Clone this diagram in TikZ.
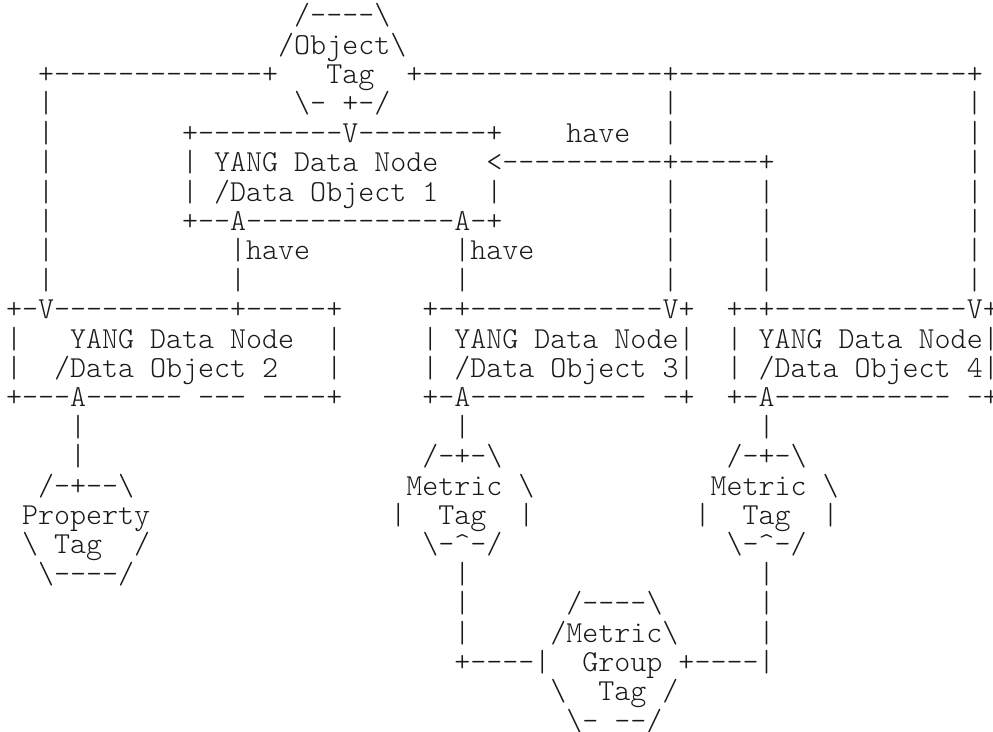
\documentclass[tikz,border=0pt]{standalone}
\usepackage{fontspec}
\newcommand\asciifont{\ttfamily\fontseries{l}\fontsize{30.5}{29.4}\selectfont}
\newcommand\gp[1]{\hskip #1\fontcharwd\font`x\relax}
\newcommand\bsl{\textbackslash}
\newcommand\crt{\textasciicircum}
\newcount\dshcnt
\newcommand\dsh[1]{\dshcnt=#1\relax\loop -\kern0pt\advance\dshcnt by -1\relax\ifnum\dshcnt>0 \repeat}
\tikzset{asc/.style={anchor=base west, inner sep=0pt, outer sep=0pt, font=\asciifont, text=black!90}}
\begin{document}
\begin{tikzpicture}[x=1pt,y=1pt]
\useasboundingbox (0,0) rectangle (993,731);
\def\xo{6}
\def\lny#1{706.3-(#1-1)*29.4}
\node[asc] (l1)  at (\xo,{\lny{1}})  {\gp{18}/\dsh{4}\bsl};
\node[asc] (l2)  at (\xo,{\lny{2}})  {\gp{17}/Object\bsl};
\node[asc] (l3)  at (\xo,{\lny{3}})  {\gp{2}+\dsh{13}+\gp{3}Tag\gp{2}+\dsh{15}+\dsh{18}+};
\node[asc] (l4)  at (\xo,{\lny{4}})  {\gp{2}|\gp{15}\bsl-\gp{1}+-/\gp{17}|\gp{18}|};
\node[asc] (l5)  at (\xo,{\lny{5}})  {\gp{2}|\gp{8}+\dsh{9}V\dsh{8}+\gp{4}have\gp{2}|\gp{18}|};
\node[asc] (l6)  at (\xo,{\lny{6}})  {\gp{2}|\gp{8}|\gp{1}YANG\gp{1}Data\gp{1}Node\gp{3}<\dsh{10}+\dsh{5}+\gp{12}|};
\node[asc] (l7)  at (\xo,{\lny{7}})  {\gp{2}|\gp{8}|\gp{1}/Data\gp{1}Object\gp{1}1\gp{3}|\gp{10}|\gp{5}|\gp{12}|};
\node[asc] (l8)  at (\xo,{\lny{8}})  {\gp{2}|\gp{8}+\dsh{2}A\dsh{13}A-+\gp{10}|\gp{5}|\gp{12}|};
\node[asc] (l9)  at (\xo,{\lny{9}})  {\gp{2}|\gp{11}|have\gp{9}|have\gp{8}|\gp{5}|\gp{12}|};
\node[asc] (l10) at (\xo,{\lny{10}}) {\gp{2}|\gp{11}|\gp{13}|\gp{12}|\gp{5}|\gp{12}|};
\node[asc] (l11) at (\xo,{\lny{11}}) {+-V\dsh{11}+\dsh{5}+\gp{5}+-+\dsh{12}V+\gp{2}+-+\dsh{12}V+};
\node[asc] (l12) at (\xo,{\lny{12}}) {|\gp{3}YANG\gp{1}Data\gp{1}Node\gp{2}|\gp{5}|\gp{1}YANG\gp{1}Data\gp{1}Node|\gp{2}|\gp{1}YANG\gp{1}Data\gp{1}Node|};
\node[asc] (l13) at (\xo,{\lny{13}}) {|\gp{2}/Data\gp{1}Object\gp{1}2\gp{3}|\gp{5}|\gp{1}/Data\gp{1}Object\gp{1}3|\gp{2}|\gp{1}/Data\gp{1}Object\gp{1}4|};
\node[asc] (l14) at (\xo,{\lny{14}}) {+\dsh{3}A\dsh{6}\gp{1}\dsh{3}\gp{1}\dsh{4}+\gp{5}+-A\dsh{11}\gp{1}-+\gp{2}+-A\dsh{11}\gp{1}-+};
\node[asc] (l15) at (\xo,{\lny{15}}) {\gp{4}|\gp{23}|\gp{18}|};
\node[asc] (l16) at (\xo,{\lny{16}}) {\gp{4}|\gp{21}/-+-\bsl\gp{14}/-+-\bsl};
\node[asc] (l17) at (\xo,{\lny{17}}) {\gp{2}/-+\dsh{2}\bsl\gp{17}Metric\gp{1}\bsl\gp{11}Metric\gp{1}\bsl};
\node[asc] (l18) at (\xo,{\lny{18}}) {\gp{1}Property\gp{15}|\gp{2}Tag\gp{2}|\gp{10}|\gp{2}Tag\gp{2}|};
\node[asc] (l19) at (\xo,{\lny{19}}) {\gp{1}\bsl\gp{1}Tag\gp{2}/\gp{17}\bsl-\crt-/\gp{14}\bsl-\crt-/};
\node[asc] (l20) at (\xo,{\lny{20}}) {\gp{2}\bsl\dsh{4}/\gp{20}|\gp{18}|};
\node[asc] (l21) at (\xo,{\lny{21}}) {\gp{28}|\gp{6}/\dsh{4}\bsl\gp{6}|};
\node[asc] (l22) at (\xo,{\lny{22}}) {\gp{28}|\gp{5}/Metric\bsl\gp{5}|};
\node[asc] (l23) at (\xo,{\lny{23}}) {\gp{28}+\dsh{4}|\gp{2}Group\gp{1}+\dsh{4}|};
\node[asc] (l24) at (\xo,{\lny{24}}) {\gp{34}\bsl\gp{2}Tag\gp{1}/};
\node[asc] (l25) at (\xo,{\lny{25}}) {\gp{35}\bsl-\gp{1}\dsh{2}/};
\end{tikzpicture}
\end{document}
